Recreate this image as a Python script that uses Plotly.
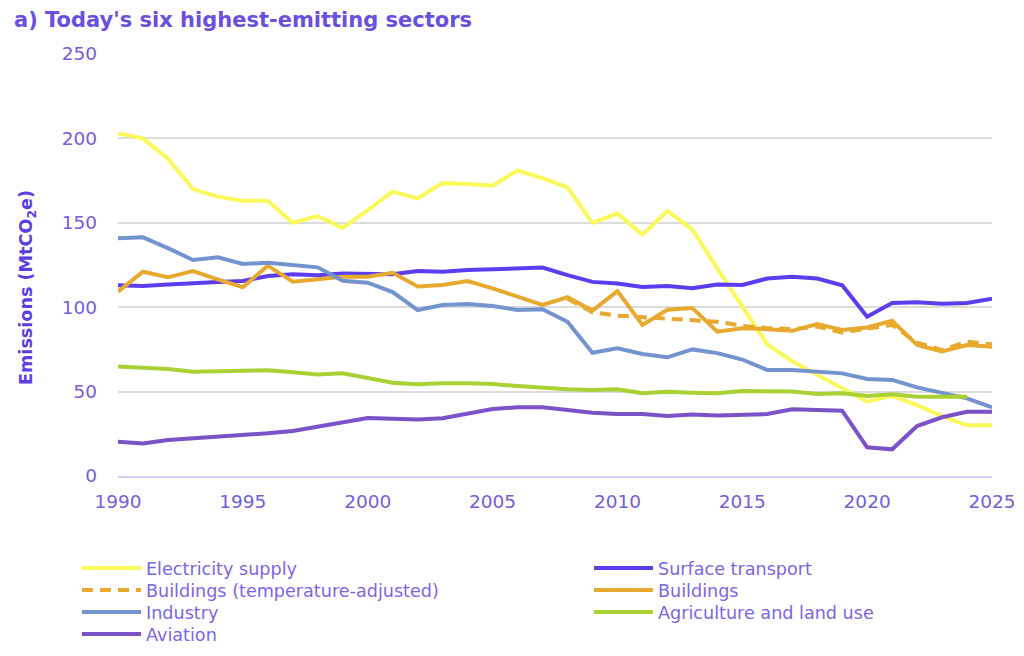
import plotly.graph_objects as go

years = list(range(1990, 2026))

electricity = [203, 200, 188, 170, 165.5, 163, 163, 150, 154, 147, 157.5, 168.5, 164.5, 173.5, 173, 172, 181, 176.5, 171, 150, 155.5, 143, 157, 146, 123, 101, 78, 68, 60, 51.5, 44, 47.5, 42, 35.5, 30, 30]
surface = [113, 112.5, 113.5, 114.5, 115, 115.5, 118.5, 119.5, 119, 120, 119.5, 119.5, 121.5, 121, 122, 122.5, 123, 123.5, 119, 115, 114, 112, 112.5, 111.2, 113.4, 113.2, 117, 118, 117, 113, 94.4, 102.5, 103, 102, 102.5, 105]
buildings_adj = [None] * 18 + [105, 97, 95, 94, 93.5, 92.5, 91.4, 89, 87.6, 87, 88.5, 85, 87.5, 89.5, 79, 74.6, 79.6, 78]
buildings = [109.2, 121, 117.7, 121.4, 116.5, 111.8, 124.6, 115.1, 116.5, 118, 118, 120.4, 112.3, 113.2, 115.5, 111.2, 106.2, 101.3, 105.9, 98, 109.5, 89.5, 98.5, 99.5, 85.5, 87.5, 87, 86, 90, 86.5, 88, 92, 77.6, 73.8, 77.6, 76.6]
industry = [140.8, 141.4, 135, 128, 129.6, 125.6, 126.4, 125, 123.6, 115.7, 114.5, 109, 98.3, 101.3, 101.9, 100.7, 98.3, 98.8, 91.4, 73, 75.6, 72.3, 70.3, 75, 72.8, 69, 62.8, 62.8, 61.8, 60.8, 57.5, 56.9, 52.5, 49.3, 46, 40.7]
agriculture = [64.8, 64.2, 63.4, 61.8, 62.2, 62.2, 62.6, 61.4, 60.2, 60.8, 58.2, 55.3, 54.3, 54.9, 54.9, 54.5, 53.3, 52.3, 51.4, 50.9, 51.4, 49, 49.9, 49.3, 49, 50.4, 50.4, 50, 48.6, 49, 47.4, 48.4, 47, 47, 47, None]
aviation = [20.3, 19.3, 21.3, 22.3, 22.9, 24.1, 25.3, 26.7, 29.2, 31.6, 34.3, 33.9, 33.4, 34.2, 37.1, 39.7, 40.7, 40.7, 39.1, 37.5, 36.7, 36.7, 35.5, 36.5, 35.8, 36.1, 36.7, 39.5, 39.1, 38.7, 17, 15.8, 29.6, 34.8, 38.1, 38.1]

series_names = ["Electricity supply", "Surface transport", "Buildings (temperature-adjusted)",
                "Buildings", "Industry", "Agriculture and land use", "Aviation"]
series_values = [electricity, surface, buildings_adj, buildings, industry, agriculture, aviation]
series_colors = ["#FBF85A", "#5B3DF2", "#E8AA2E", "#E8AA2E", "#7494D0", "#A9D133", "#7B52C8"]
series_dash = ["solid", "solid", "11px,7px", "solid", "solid", "solid", "solid"]

# legend slot (column, row) for each series
legend_col = [0, 1, 0, 1, 0, 1, 0]
legend_row = [0, 0, 1, 1, 2, 2, 3]

title_text = "a) Today's six highest-emitting sectors"
y_title = "Emissions (MtCO<sub>2</sub>e)"
x_ticks = [1990, 1995, 2000, 2005, 2010, 2015, 2020, 2025]
y_ticks = [0, 50, 100, 150, 200, 250]

FONT = "DejaVu Sans"
TICK = "#7161DE"
LEG = "#7868E8"
W, H = 1024, 656
ML, MR, MT, MB = 118, 32, 54, 180

col_x = [77, 589]
row_y = [568, 590, 612, 634]

fig = go.Figure()
layout_legends = {}
for i, (name, vals, color, dash) in enumerate(zip(series_names, series_values, series_colors, series_dash)):
    lg = "legend" if i == 0 else f"legend{i + 1}"
    fig.add_trace(go.Scatter(
        x=years, y=vals, name=name, mode="lines",
        line=dict(color=color, width=4, dash=dash),
        connectgaps=False, legend=lg,
    ))
    layout_legends[lg] = dict(
        x=col_x[legend_col[i]] / W, xref="container", xanchor="left",
        y=1 - row_y[legend_row[i]] / H, yref="container", yanchor="middle",
        itemwidth=59, bgcolor="rgba(0,0,0,0)", borderwidth=0,
        font=dict(family=FONT, size=17.6, color=LEG),
    )

fig.update_layout(
    width=W, height=H,
    margin=dict(l=ML, r=MR, t=MT, b=MB, autoexpand=False),
    paper_bgcolor="white", plot_bgcolor="white",
    font=dict(family=FONT, color=TICK, size=18),
    title=dict(text="<b>" + title_text + "</b>", x=14 / W, xref="container", xanchor="left",
               y=1 - 20 / H, yref="container", yanchor="middle",
               font=dict(family=FONT, size=21, color="#6A50E2")),
    showlegend=True,
    **layout_legends,
)
fig.add_annotation(
    text="<b>" + y_title + "</b>", textangle=-90,
    xref="paper", x=(27 - ML) / (W - ML - MR), xanchor="center",
    yref="paper", y=(H - MB - 288) / (H - MT - MB), yanchor="middle", showarrow=False,
    font=dict(family=FONT, size=17.6, color="#5A3EE6"),
)
fig.update_xaxes(range=[1990, 2025], tickvals=x_ticks, showgrid=False, zeroline=False,
                 showline=True, linecolor="#D4D2EE", linewidth=2,
                 ticklabelstandoff=8, tickfont=dict(family=FONT, size=18.5, color=TICK))
fig.update_yaxes(range=[0, 250], tickvals=y_ticks, showgrid=True, gridcolor="#DCDCDC",
                 gridwidth=1.5, zeroline=False, ticklabelstandoff=20,
                 tickfont=dict(family=FONT, size=18.5, color=TICK))

fig.write_html("out.html")
